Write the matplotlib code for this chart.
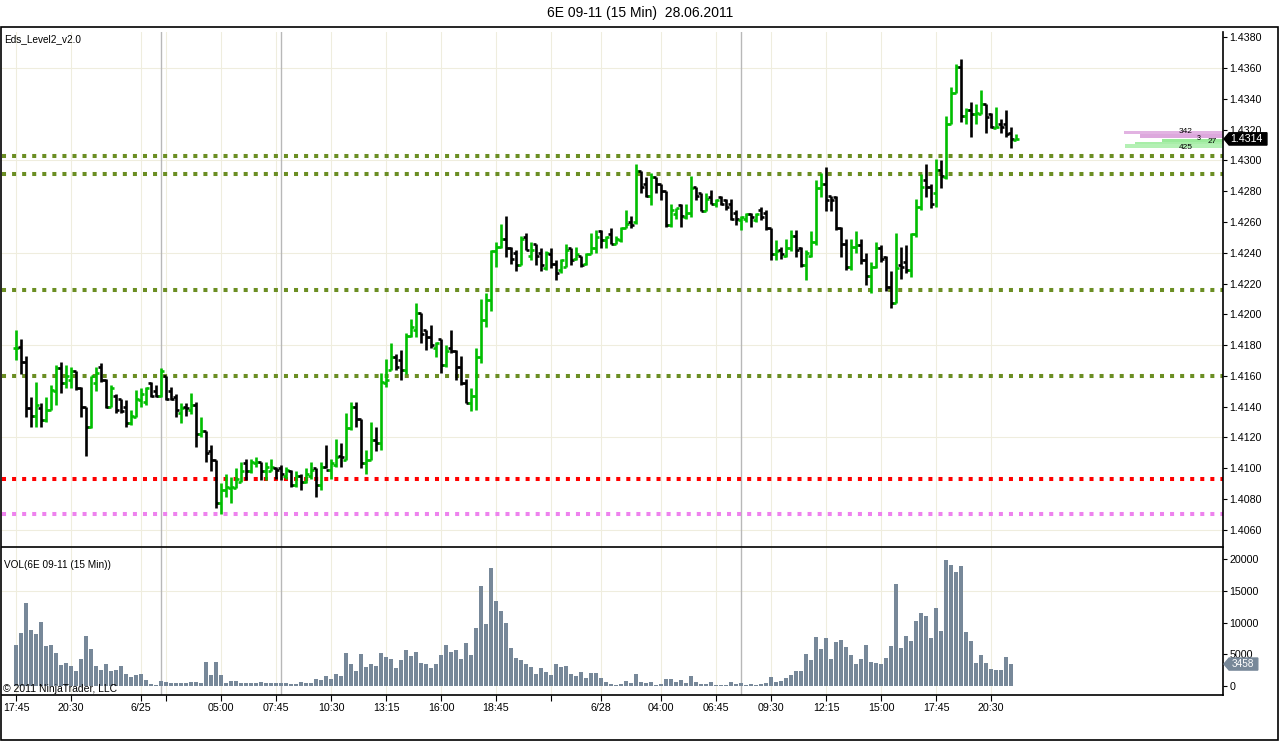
import matplotlib
matplotlib.use("Agg")
import matplotlib.pyplot as plt
import matplotlib.transforms as mtransforms
from matplotlib.collections import LineCollection
from matplotlib.patches import Rectangle, Polygon

plt.rcParams['font.family'] = ['Liberation Sans', 'DejaVu Sans']

# 6E 09-11, 15 min bars, prices given as pips above 1.4000
opens = [178, 179, 169, 139, 134, 139, 131, 138, 150, 165, 155, 157, 163, 152, 140, 127, 155, 166, 157, 140,
         147, 145, 140, 129, 133, 144, 143, 155, 150, 147, 160, 150, 146, 136, 140, 138, 141, 122, 124, 111,
         105, 77, 86, 87, 87, 91, 103, 98, 103, 104, 98, 98, 100, 100, 95, 98, 89, 95, 91, 95,
         100, 89, 101, 99, 102, 108, 105, 126, 140, 132, 103, 105, 118, 116, 155, 164, 172, 170, 164, 186,
         190, 201, 190, 185, 178, 184, 167, 178, 176, 166, 155, 142, 147, 172, 196, 209, 241, 244, 249, 243,
         240, 232, 250, 238, 246, 240, 230, 239, 233, 229, 231, 243, 236, 238, 233, 239, 243, 254, 248, 252,
         246, 248, 256, 260, 260, 293, 285, 277, 289, 285, 280, 258, 265, 271, 263, 266, 283, 279, 267, 276,
         272, 276, 274, 272, 266, 261, 262, 265, 261, 268, 266, 256, 239, 242, 238, 243, 251, 243, 232, 238,
         247, 282, 285, 277, 276, 256, 246, 231, 244, 245, 235, 225, 231, 243, 237, 218, 207, 232, 234, 229,
         252, 270, 287, 283, 279, 294, 289, 324, 344, 361, 329, 333, 330, 330, 337, 330, 321, 324, 324, 318,
         313]
highs = [190, 184, 173, 146, 156, 142, 146, 154, 167, 169, 167, 166, 163, 153, 140, 160, 166, 168, 158, 154,
         148, 145, 144, 138, 151, 152, 153, 156, 154, 165, 160, 153, 148, 142, 142, 149, 143, 133, 124, 115,
         105, 90, 96, 94, 100, 104, 106, 106, 107, 104, 104, 106, 101, 102, 101, 99, 98, 96, 100, 104,
         100, 104, 115, 106, 119, 116, 136, 143, 143, 132, 112, 130, 127, 162, 171, 181, 174, 177, 188, 197,
         207, 201, 190, 193, 182, 184, 180, 190, 177, 173, 158, 152, 178, 210, 214, 242, 247, 259, 264, 244,
         242, 251, 253, 247, 246, 243, 241, 243, 235, 236, 246, 243, 244, 238, 240, 253, 255, 255, 251, 256,
         251, 257, 268, 264, 298, 293, 289, 292, 289, 285, 280, 272, 269, 272, 272, 290, 283, 279, 279, 281,
         275, 277, 275, 275, 268, 264, 266, 266, 266, 270, 268, 256, 248, 244, 249, 255, 255, 244, 242, 254,
         287, 292, 296, 277, 277, 257, 249, 249, 254, 249, 240, 234, 247, 245, 238, 228, 253, 244, 245, 253,
         275, 291, 298, 285, 301, 300, 329, 348, 363, 366, 334, 338, 337, 346, 337, 331, 335, 327, 333, 322,
         317]
lows = [170, 161, 133, 127, 127, 127, 130, 138, 141, 149, 152, 152, 151, 133, 108, 126, 150, 156, 139, 140,
        136, 136, 127, 128, 133, 140, 141, 146, 146, 146, 144, 144, 133, 129, 134, 135, 114, 120, 104, 98,
        74, 70, 81, 77, 87, 91, 92, 97, 101, 92, 92, 98, 93, 92, 93, 88, 88, 86, 90, 93,
        81, 86, 100, 93, 101, 101, 105, 125, 127, 100, 96, 105, 111, 112, 153, 164, 164, 157, 161, 185,
        185, 181, 177, 178, 172, 162, 166, 175, 157, 154, 142, 137, 138, 168, 192, 202, 231, 243, 237, 233,
        228, 232, 242, 235, 232, 228, 229, 230, 222, 227, 231, 232, 235, 231, 232, 239, 240, 243, 243, 246,
        246, 247, 256, 256, 259, 279, 276, 271, 279, 274, 257, 257, 262, 257, 262, 263, 274, 267, 267, 272,
        270, 271, 268, 261, 258, 255, 260, 257, 260, 261, 255, 235, 235, 236, 237, 241, 237, 231, 222, 237,
        245, 276, 267, 267, 255, 237, 229, 229, 240, 233, 219, 214, 230, 234, 215, 204, 207, 223, 227, 224,
        250, 268, 276, 269, 270, 282, 288, 324, 344, 325, 324, 315, 324, 330, 318, 321, 321, 318, 315, 308,
        313]
closes = [178, 169, 139, 134, 141, 131, 138, 151, 165, 155, 160, 163, 152, 140, 127, 160, 162, 157, 140, 152,
          138, 137, 129, 134, 145, 148, 152, 147, 147, 163, 145, 145, 138, 139, 139, 141, 122, 124, 110, 105,
          77, 86, 88, 88, 93, 98, 98, 104, 104, 98, 101, 101, 99, 96, 99, 89, 95, 91, 96, 99,
          89, 101, 99, 103, 107, 107, 126, 140, 132, 103, 105, 118, 116, 156, 157, 172, 166, 164, 186, 192,
          201, 187, 185, 180, 181, 167, 176, 176, 166, 155, 142, 147, 172, 196, 209, 241, 244, 249, 243, 236,
          232, 249, 242, 242, 238, 232, 240, 233, 227, 235, 242, 235, 239, 232, 239, 243, 250, 248, 250, 246,
          249, 256, 259, 258, 293, 283, 277, 289, 285, 280, 258, 268, 269, 264, 266, 282, 277, 267, 275, 272,
          274, 272, 270, 262, 262, 263, 265, 263, 265, 263, 256, 239, 241, 239, 243, 251, 242, 232, 240, 247,
          282, 285, 274, 274, 256, 246, 231, 244, 245, 235, 225, 231, 243, 236, 218, 207, 230, 231, 229, 252,
          270, 283, 283, 272, 294, 290, 324, 344, 361, 329, 333, 330, 331, 337, 328, 322, 322, 322, 317, 314,
          314]

volume = [6450, 8330, 13050, 8800, 8170, 10060, 6340, 6450, 5190, 3300, 3620, 3140, 2360, 4240, 7860, 5820, 3200, 2520, 3460, 2360,
          2520, 3140, 1940, 1410, 1780, 1940, 940, 310, 210, 790, 680, 470, 520, 520, 520, 680, 680, 520, 3830, 1780,
          3830, 1780, 520, 790, 790, 520, 520, 520, 520, 680, 420, 420, 520, 520, 520, 370, 370, 630, 520, 520,
          1100, 1000, 1620, 1150, 1940, 1620, 5240, 3510, 2410, 5030, 2990, 3510, 3200, 5190, 4610, 4300, 2880, 4090, 5660, 4770,
          5340, 3620, 3510, 2880, 3460, 4930, 6450, 5400, 5660, 4300, 6760, 4930, 9120, 15720, 9750, 18550, 13360, 11790, 9900, 5970,
          4400, 4090, 3460, 2990, 1890, 2830, 2200, 1730, 3460, 2990, 3140, 1890, 1570, 2200, 1260, 2040, 2040, 1260, 630, 310,
          160, 310, 790, 470, 1890, 630, 470, 630, 160, 310, 1100, 1100, 630, 940, 470, 1570, 630, 310, 310, 630,
          160, 160, 160, 630, 370, 470, 210, 310, 210, 310, 470, 1410, 680, 790, 1260, 1730, 2360, 2360, 5030, 4090,
          7700, 5820, 7550, 4240, 6920, 7230, 6130, 4870, 3460, 4240, 6450, 3770, 3620, 3460, 4400, 6290, 16030, 5970, 7860, 7070,
          10220, 11480, 11000, 7550, 12260, 8650, 19810, 19020, 17920, 18860, 8490, 7070, 3620, 4870, 3620, 2670, 2520, 2520, 4560, 3458]

tick_bars = [0, 11, 25, 30, 41, 52, 63, 74, 85, 96, 107, 117, 129, 140, 151, 162, 173, 184, 195]
tick_labels = ['17:45', '20:30', '6/25', '', '05:00', '07:45', '10:30', '13:15', '16:00', '18:45', '',
               '6/28', '04:00', '06:45', '09:30', '12:15', '15:00', '17:45', '20:30']
session_breaks = [29, 53, 145]

olive_levels = [1.4303, 1.4291, 1.4216, 1.4160]
red_level = 1.4093
violet_level = 1.4070

ask_prices = [1.43180, 1.43160]
ask_sizes = [429, 360]
bid_prices = [1.43130, 1.43112, 1.43094]
bid_sizes = [266, 382, 425]
last_price = 1.4314
last_volume = 3458

W, H = 1280, 741
fig = plt.figure(figsize=(W / 100, H / 100), dpi=100)


def fx(px):
    return px / W


def fy(py):
    return 1 - py / H


ax = fig.add_axes([fx(2), fy(547), fx(1221), (547 - 32) / H])
axv = fig.add_axes([fx(2), fy(695), fx(1221), (695 - 548) / H])

grid_col = '#EFEDDE'
up_col = '#00BE00'
down_col = '#000000'

n = len(closes)
xs = range(n)
o = [1.4 + v / 10000 for v in opens]
h = [1.4 + v / 10000 for v in highs]
l = [1.4 + v / 10000 for v in lows]
c = [1.4 + v / 10000 for v in closes]

# grids and session breaks
for a in (ax, axv):
    for b in tick_bars:
        a.axvline(b, color=grid_col, lw=0.8, zorder=0)
    for b in session_breaks:
        a.axvline(b, color='#B8B8B8', lw=1.0, zorder=0.5)
for g in [1.4060, 1.4120, 1.4180, 1.4240, 1.4300, 1.4360]:
    ax.axhline(g, color=grid_col, lw=0.8, zorder=0)
axv.axhline(15000, color=grid_col, lw=0.8, zorder=0)

# level lines
for lv in olive_levels:
    ax.axhline(lv, color='#6B8E23', lw=2.9, linestyle=(0, (1, 1.5)), zorder=2)
ax.axhline(red_level, color='#FF0000', lw=2.9, linestyle=(0, (1, 1.5)), zorder=2)
ax.axhline(violet_level, color='#EE82EE', lw=2.9, linestyle=(0, (1, 1.5)), zorder=2)

# OHLC bars
segs, cols = [], []
tk = 0.6
for i in xs:
    col = up_col if c[i] >= o[i] else down_col
    segs += [[(i, l[i]), (i, h[i])], [(i - tk, o[i]), (i, o[i])], [(i, c[i]), (i + tk, c[i])]]
    cols += [col] * 3
ax.add_collection(LineCollection(segs, colors=cols, linewidths=1.9, zorder=3, capstyle='butt'))

# market depth on the right
scale = 19.8 / max(ask_sizes + bid_sizes)
right = 241.4
for p, s, cl in zip(ask_prices, ask_sizes, ['#E2B3E2', '#DDA8DD']):
    ax.barh(p, s * scale, left=right - s * scale, height=0.00022, color=cl, zorder=2)
for p, s, cl in zip(bid_prices, bid_sizes, ['#9AEA9A', '#A8EEA8', '#B4F0B4']):
    ax.barh(p, s * scale, left=right - s * scale, height=0.00020, color=cl, zorder=2)
ax.text(234.0, 1.43186, '342', fontsize=6, ha='center', va='center', zorder=4)
ax.text(236.6, 1.43140, '3', fontsize=5, ha='center', va='center', zorder=4)
ax.text(239.2, 1.43122, '27', fontsize=6, ha='center', va='center', zorder=4)
ax.text(234.0, 1.43082, '425', fontsize=6, ha='center', va='center', zorder=4)

ax.set_xlim(-2.8, 241.4)
ax.set_ylim(1.40487, 1.43835)

# volume
axv.bar(range(len(volume)), volume, width=0.8, color='#778899', zorder=2)
axv.set_xlim(-2.8, 241.4)
axv.set_ylim(-1417, 21735)

# axes styling
for a in (ax, axv):
    a.yaxis.tick_right()
    a.tick_params(axis='y', direction='out', length=3, width=0.8, pad=1.5, labelsize=7.7)
    for sp in ('left', 'top'):
        a.spines[sp].set_visible(False)
    a.spines['right'].set_linewidth(1.2)
ax.spines['bottom'].set_linewidth(1.2)
axv.spines['bottom'].set_linewidth(1.2)

ax.set_xticks([])
yt = [1.4060 + 0.002 * k for k in range(17)]
ax.set_yticks(yt)
ax.set_yticklabels(['%.4f' % v for v in yt])

axv.set_yticks([0, 5000, 10000, 15000, 20000])
axv.set_yticklabels(['0', '5000', '10000', '15000', '20000'])
axv.set_xticks(tick_bars)
axv.set_xticklabels(tick_labels)
axv.tick_params(axis='x', direction='out', length=4, width=0.8, pad=2, labelsize=7.7)

# last price / last volume markers
tr = mtransforms.blended_transform_factory(ax.transAxes, ax.transData)
d = 0.00040
ax.add_patch(Polygon([(1.0008, last_price), (1.0050, last_price + d), (1.0360, last_price + d),
                      (1.0360, last_price - d), (1.0050, last_price - d)],
                     closed=True, transform=tr, color='black', clip_on=False, zorder=5))
ax.text(1.0195, last_price, '%.4f' % last_price, transform=tr, color='white', fontsize=7.7,
        ha='center', va='center', zorder=6, clip_on=False)
trv = mtransforms.blended_transform_factory(axv.transAxes, axv.transData)
dv = 950
axv.add_patch(Polygon([(1.0008, last_volume), (1.0050, last_volume + dv), (1.0285, last_volume + dv),
                       (1.0285, last_volume - dv), (1.0050, last_volume - dv)],
                      closed=True, transform=trv, color='#778899', clip_on=False, zorder=5))
axv.text(1.0165, last_volume, str(last_volume), transform=trv, color='white', fontsize=7.2,
         ha='center', va='center', zorder=6, clip_on=False)

# texts
fig.text(0.5, fy(13), '6E 09-11 (15 Min)  28.06.2011', ha='center', va='center', fontsize=10)
fig.text(fx(4), fy(39), 'Eds_Level2_v2.0', ha='left', va='center', fontsize=7.2)
fig.text(fx(4), fy(565), 'VOL(6E 09-11 (15 Min))', ha='left', va='center', fontsize=7.2)
fig.text(fx(3), fy(689), '\u00a9 2011 NinjaTrader, LLC', ha='left', va='center', fontsize=7.5)

# outer frame
fig.patches.append(Rectangle((fx(1), fy(740)), fx(1277), (740 - 27) / H, transform=fig.transFigure,
                             fill=False, ec='black', lw=1.2, zorder=10))

fig.savefig('out.png', dpi=100)
